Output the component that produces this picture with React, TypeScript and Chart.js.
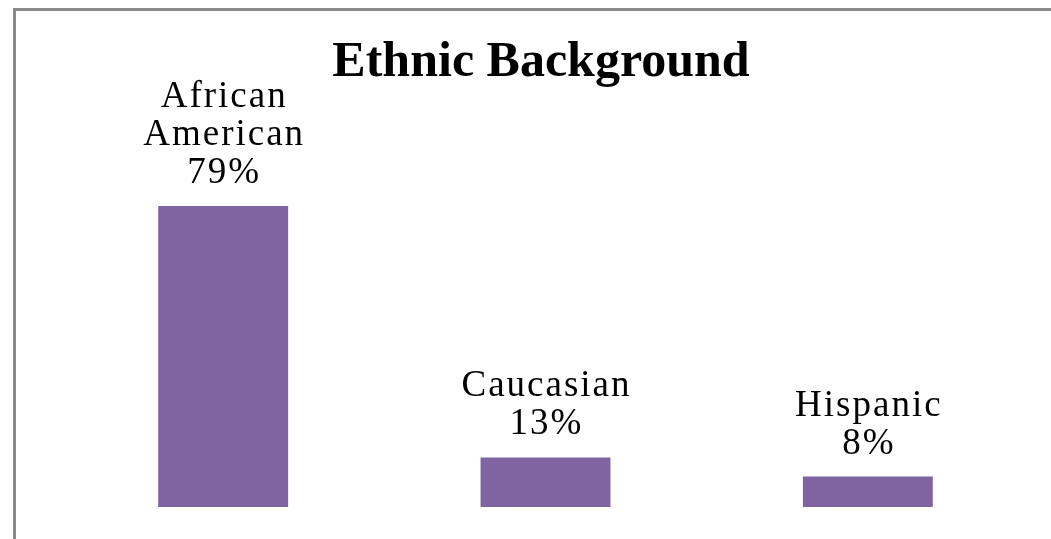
import React, { useEffect, useRef } from "react";
import { Chart, registerables } from "chart.js";

Chart.register(...registerables);

const categories = ["African American", "Caucasian", "Hispanic"];
const labelLines = [["African", "American", "79%"], ["Caucasian", "13%"], ["Hispanic", "8%"]];
const values = [79, 13, 8];
const chartTitle = "Ethnic Background";

const labelPlugin = {
  id: "customLabels",
  afterDatasetsDraw(chart: any) {
    const ctx = chart.ctx;
    const meta = chart.getDatasetMeta(0);
    ctx.save();
    // title
    ctx.fillStyle = "#000";
    ctx.font = "bold 50px 'Liberation Serif', 'Times New Roman', serif";
    ctx.textAlign = "center";
    ctx.textBaseline = "alphabetic";
    (ctx as any).letterSpacing = "0px";
    ctx.fillText(chartTitle, 541, 76);
    // data labels
    ctx.font = "37px 'Liberation Serif', 'Times New Roman', serif";
    (ctx as any).letterSpacing = "2px";
    const lineH = 38;
    meta.data.forEach((bar: any, i: number) => {
      const lines = labelLines[i];
      const baseY = bar.y - 23;
      lines.forEach((ln, j) => {
        const y = baseY - (lines.length - 1 - j) * lineH;
        ctx.fillText(ln, bar.x + 1, y);
      });
    });
    ctx.restore();
  },
};

export default function App() {
  const ref = useRef<HTMLCanvasElement>(null);
  useEffect(() => {
    if (!ref.current) return;
    const chart = new Chart(ref.current, {
      type: "bar",
      data: {
        labels: categories,
        datasets: [
          {
            data: values,
            backgroundColor: "#8064A2",
            barPercentage: 0.403,
            categoryPercentage: 1,
          },
        ],
      },
      options: {
        responsive: false,
        animation: false,
        layout: { padding: { top: 126, bottom: 32, left: 62, right: 22 } },
        plugins: {
          legend: { display: false },
          title: { display: false },
          tooltip: { enabled: false },
        },
        scales: {
          x: { display: false },
          y: { display: false, min: 0, max: 100 },
        },
      },
      plugins: [labelPlugin],
    });
    return () => chart.destroy();
  }, []);
  return (
    <div style={{ position: "absolute", left: 0, top: 0, width: 1051, height: 539, background: "#fff", overflow: "hidden" }}>
      <div
        style={{
          position: "absolute",
          left: 13,
          top: 8,
          width: 1038,
          height: 531,
          boxSizing: "border-box",
          borderLeft: "3px solid #8a8a8a",
          borderTop: "3px solid #8a8a8a",
        }}
      />
      <canvas ref={ref} width={1051} height={539} style={{ position: "absolute", left: 0, top: 0 }} />
    </div>
  );
}
